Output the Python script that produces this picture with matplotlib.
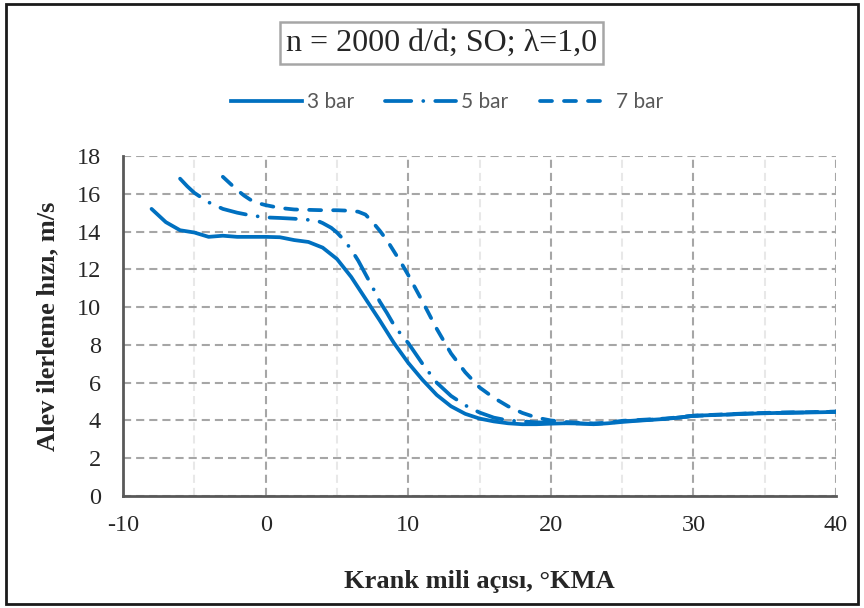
import matplotlib
matplotlib.use('Agg')
import matplotlib.pyplot as plt
from matplotlib.patches import Rectangle
from matplotlib.lines import Line2D

plt.rcParams['axes.unicode_minus'] = False

# Crank angle (°KMA) and flame speed (m/s) for each pressure
x_3bar = [-8, -7, -6, -5, -4, -3, -2, -1, 0, 1, 2, 3, 4, 5, 6, 7, 8, 9, 10,
          11, 12, 13, 14, 15, 16, 17, 18, 19, 20, 21, 22, 23, 24, 25, 26, 27,
          28, 29, 30, 32, 34, 36, 38, 40]
v_3bar = [15.2, 14.5, 14.07, 13.95, 13.72, 13.78, 13.72, 13.72, 13.72, 13.7,
          13.55, 13.45, 13.15, 12.55, 11.6, 10.45, 9.3, 8.1, 7.05, 6.15, 5.35,
          4.75, 4.35, 4.1, 3.95, 3.85, 3.8, 3.8, 3.83, 3.85, 3.84, 3.8, 3.85,
          3.92, 3.98, 4.03, 4.08, 4.15, 4.25, 4.3, 4.36, 4.4, 4.42, 4.45]

x_5bar = [-6, -5.5, -5, -4.5, -4, -3, -2, -1, 0, 1, 2, 3, 3.6, 4, 4.6, 5, 5.5,
          6, 6.5, 7, 7.5, 8, 8.5, 9, 9.5, 10, 11, 12, 13, 14, 15, 16, 17, 18,
          19, 20, 21, 22, 23, 24, 25, 26, 27, 28, 29, 30, 32, 34, 36, 38, 40]
v_5bar = [16.8, 16.4, 16.05, 15.8, 15.55, 15.2, 15.0, 14.85, 14.75, 14.72,
          14.68, 14.62, 14.58, 14.45, 14.2, 13.95, 13.55, 13.05, 12.45, 11.75,
          11.05, 10.3, 9.7, 9.05, 8.55, 8.1, 7.0, 6.0, 5.3, 4.8, 4.42, 4.15,
          4.0, 3.95, 3.9, 3.88, 3.85, 3.84, 3.82, 3.86, 3.95, 4.0, 4.04, 4.08,
          4.16, 4.24, 4.3, 4.37, 4.4, 4.43, 4.46]

x_7bar = [-3, -2.5, -2, -1.5, -1, -0.5, 0, 1, 2, 3, 4, 5, 6, 6.5, 7, 7.5, 8,
          8.5, 9, 9.5, 10, 10.5, 11, 12, 13, 14, 15, 16, 17, 18, 19, 20, 21,
          22, 23, 24, 25, 26, 27, 28, 29, 30, 32, 34, 36, 38, 40]
v_7bar = [16.9, 16.55, 16.2, 15.9, 15.65, 15.5, 15.4, 15.25, 15.17, 15.15,
          15.13, 15.13, 15.1, 15.05, 14.9, 14.5, 14.05, 13.55, 12.95, 12.35,
          11.7, 11.0, 10.3, 8.85, 7.55, 6.55, 5.75, 5.2, 4.75, 4.4, 4.15, 4.0,
          3.92, 3.88, 3.84, 3.88, 3.98, 4.02, 4.06, 4.1, 4.17, 4.25, 4.32,
          4.38, 4.42, 4.44, 4.47]

labels = ['3 bar', '5 bar', '7 bar']
x_ticks = [-10, 0, 10, 20, 30, 40]
y_ticks = [0, 2, 4, 6, 8, 10, 12, 14, 16, 18]

BLUE = '#0070C0'
GRID = '#A6A6A6'
SERIF = 'Liberation Serif'
LW = 2.7

fig = plt.figure(figsize=(8.64, 6.08), dpi=100)
ax = fig.add_axes([0.1424, 0.1842, 0.8252, 0.5592])

styles = ['-', (0, (7, 3.2, 0.01, 3.2)), (0, (3.2, 3.2))]
series = [(x_3bar, v_3bar), (x_5bar, v_5bar), (x_7bar, v_7bar)]
for (xs, ys), ls, lab in zip(series, styles, labels):
    ax.plot(xs, ys, color=BLUE, lw=LW, ls=ls, label=lab,
            dash_capstyle='round', solid_capstyle='round', zorder=3)

ax.set_xlim(-10, 40)
ax.set_ylim(0, 18)
ax.set_xticks(x_ticks)
ax.set_yticks(y_ticks)
ax.set_xticks([-5, 5, 15, 25, 35], minor=True)
ax.tick_params(axis='both', which='both', length=0, labelsize=17.5,
               colors='#262626')
ax.tick_params(axis='x', pad=14)
ax.tick_params(axis='y', pad=16)
for lab in ax.get_xticklabels() + ax.get_yticklabels():
    lab.set_family(SERIF)

ax.grid(True, which='major', color=GRID, ls=(0, (3.9, 2.4)), lw=1.5)
ax.grid(True, which='minor', axis='x', color='#E8E8E8', ls=(0, (3.9, 2.4)), lw=1.5)
ax.set_axisbelow(True)

for side in ['top', 'right']:
    ax.spines[side].set_visible(False)
for side in ['left', 'bottom']:
    ax.spines[side].set_color('#595959')
    ax.spines[side].set_linewidth(2)

ax.set_xlabel('Krank mili açısı, °KMA', family=SERIF, fontsize=19,
              fontweight='bold', color='#262626', labelpad=24)
ax.set_ylabel('Alev ilerleme hızı, m/s', family=SERIF, fontsize=19,
              fontweight='bold', color='#262626', labelpad=12)

# Operating condition box
fig.text(0.511, 0.929, 'n = 2000 d/d; SO; λ=1,0', family=SERIF, fontsize=23,
         ha='center', va='center', color='#262626',
         bbox=dict(boxstyle='square,pad=0.2', fc='white', ec=GRID, lw=1.8))

handles = [Line2D([], [], color=BLUE, lw=LW, ls=s, dash_capstyle='round')
           for s in styles]
fig.legend(handles, labels, loc='center', bbox_to_anchor=(0.517, 0.832),
           ncol=3, frameon=False, handlelength=3.4, handletextpad=0.25,
           columnspacing=1.5, prop={'family': 'Lato', 'size': 15},
           labelcolor='#595959')

# Outer frame around the whole figure
fig.patches.append(Rectangle((0.007, 0.007), 0.986, 0.986, transform=fig.transFigure,
                             fill=False, ec='#1a1a1a', lw=2))

fig.savefig('out.png', dpi=100, facecolor='white')
